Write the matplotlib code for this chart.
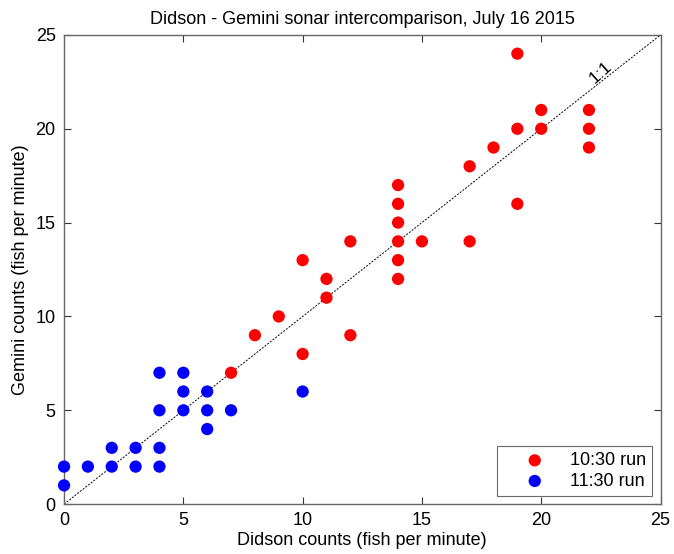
import numpy as np
import matplotlib
matplotlib.use("Agg")
from matplotlib import pyplot as plt

plt.rcParams['font.family'] = ['Liberation Sans', 'DejaVu Sans']

# 10:30 run (red)
didson_1030 = [7, 8, 9, 10, 10, 11, 11, 12, 12, 14, 14, 14, 14, 14, 14, 15,
               17, 17, 18, 19, 19, 19, 20, 20, 22, 22, 22]
gemini_1030 = [7, 9, 10, 8, 13, 12, 11, 14, 9, 17, 16, 15, 14, 13, 12, 14,
               18, 14, 19, 24, 20, 16, 21, 20, 21, 20, 19]

# 11:30 run (blue)
didson_1130 = [0, 0, 1, 2, 2, 3, 3, 4, 4, 4, 4, 5, 5, 5, 6, 6, 6, 7, 10]
gemini_1130 = [2, 1, 2, 3, 2, 3, 2, 7, 5, 3, 2, 7, 6, 5, 6, 5, 4, 5, 6]

ticks = [0, 5, 10, 15, 20, 25]

fig = plt.figure(figsize=(6.74, 5.54), dpi=100)
ax = fig.add_axes([0.095, 0.09, 0.885, 0.847])

ax.plot([0, 25], [0, 25], color='black', linestyle=(0, (2, 1.5)), linewidth=0.7, zorder=1)
ax.scatter(didson_1030, gemini_1030, s=78, color='red', edgecolors='none',
           label='10:30 run', zorder=3, clip_on=False)
ax.scatter(didson_1130, gemini_1130, s=78, color='blue', edgecolors='none',
           label='11:30 run', zorder=3, clip_on=False)

ax.text(22.5, 23.0, '1:1', rotation=42, fontsize=12.5, ha='center', va='center')

ax.set_xlim(0, 25)
ax.set_ylim(0, 25)
ax.set_xticks(ticks)
ax.set_yticks(ticks)
ax.tick_params(direction='in', top=True, right=True, labelsize=13, length=5, color='#333333', pad=6)
for s in ax.spines.values():
    s.set_color('#666666')
    s.set_linewidth(1.0)

ax.set_title('Didson - Gemini sonar intercomparison, July 16 2015', fontsize=13, pad=8)
ax.set_xlabel('Didson counts (fish per minute)', fontsize=13, labelpad=2)
ax.set_ylabel('Gemini counts (fish per minute)', fontsize=13, labelpad=5)

leg = ax.legend(loc='lower right', fontsize=13, frameon=True, fancybox=False,
                edgecolor='#444444', borderaxespad=0.45, handletextpad=0.2,
                borderpad=0.35, labelspacing=0.2, handlelength=3.5, scatterpoints=1)
leg.get_frame().set_linewidth(0.8)

fig.savefig('out.png', dpi=100)
